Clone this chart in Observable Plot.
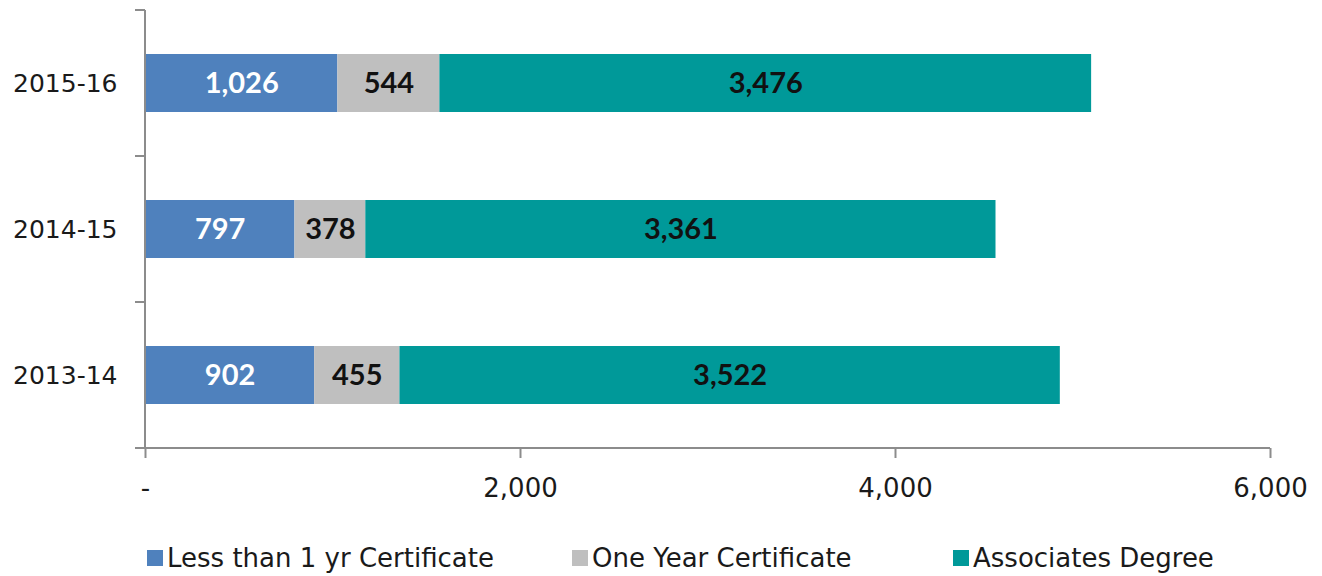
<!DOCTYPE html>
<html>
<head>
<meta charset="utf-8">
<script src="https://cdn.jsdelivr.net/npm/d3@7"></script>
<script src="https://cdn.jsdelivr.net/npm/@observablehq/plot@0.6"></script>
<style>
  html, body { margin: 0; padding: 0; background: #fff; }
  body { width: 1322px; height: 576px; overflow: hidden; font-family: "DejaVu Sans", sans-serif; }
  #legend { display: flex; padding-left: 147px; margin-top: 13px; font-size: 26px; color: #1a1a1a; align-items: center; }
  #legend .item { display: flex; align-items: center; white-space: nowrap; }
  #legend .item:nth-child(1) { width: 425px; }
  #legend .item:nth-child(2) { width: 381px; }
  #legend .sw { width: 16px; height: 16px; margin-right: 4px; display: inline-block; }
</style>
</head>
<body>
<div id="chart"></div>
<div id="legend"></div>
<script>
const years = ["2015-16", "2014-15", "2013-14"];
const series = ["Less than 1 yr Certificate", "One Year Certificate", "Associates Degree"];
const colors = ["#4F81BD", "#BFBFBF", "#009999"];
const lessThan1yr = [1026, 797, 902];
const oneYear = [544, 378, 455];
const associates = [3476, 3361, 3522];
const xTicks = [0, 2000, 4000, 6000];

const seriesValues = [lessThan1yr, oneYear, associates];
const data = [];
series.forEach((s, si) => years.forEach((y, yi) => data.push({year: y, series: s, value: seriesValues[si][yi]})));

const fmt = d3.format(",");
const axisColor = "#8c8c8c";

// Axis lines and category boundary ticks, computed from the plot's scales
function axisLines(index, scales, values, dims) {
  const y = scales.y, x = scales.x;
  const step = y.step ? y.step() : (y.bandwidth() / (1 - 0.6));
  const dom = y.domain();
  const x0 = x(0);
  const g = d3.create("svg:g");
  const first = y(dom[0]) - (step - y.bandwidth()) / 2;
  const last = first + dom.length * step;
  for (let i = 0; i < dom.length; i++) {
    const yy = first + i * step;
    g.append("line").attr("x1", x0 - 10).attr("x2", x0).attr("y1", yy).attr("y2", yy)
      .attr("stroke", axisColor).attr("stroke-width", 2);
  }
  g.append("line").attr("x1", x0).attr("x2", x0).attr("y1", first).attr("y2", last)
    .attr("stroke", axisColor).attr("stroke-width", 2);
  g.append("line").attr("x1", x0 - 10).attr("x2", x(6000)).attr("y1", last).attr("y2", last)
    .attr("stroke", axisColor).attr("stroke-width", 2);
  return g.node();
}

const labelStyle = { fontWeight: "bold", fontFamily: "Lato, sans-serif", fontSize: 29 };

const plot = Plot.plot({
  width: 1322,
  height: 530,
  marginLeft: 145,
  marginRight: 52,
  marginTop: 10,
  marginBottom: 82,
  style: { fontFamily: "DejaVu Sans, sans-serif", fontSize: "25px", color: "#1a1a1a", background: "#fff" },
  x: { domain: [0, 6000], ticks: xTicks },
  y: { domain: years, paddingInner: 0.6, paddingOuter: 0.3 },
  color: { domain: series, range: colors },
  marks: [
    Plot.barX(data, Plot.stackX({ x: "value", y: "year", z: "series", fill: "series", order: series })),
    Plot.text(data, Plot.stackX({ x: "value", y: "year", z: "series", order: series, text: d => fmt(d.value), fill: d => d.series === series[0] ? "#ffffff" : "#111111", ...labelStyle })),
    Plot.axisX({ ticks: xTicks, tickFormat: d => d === 0 ? "-" : fmt(d), tickSize: 10, tickPadding: 20, stroke: axisColor, strokeWidth: 2, fontSize: 26, fill: "#1a1a1a", label: null }),
    Plot.axisY({ tickSize: 0, tickPadding: 28, fontSize: 25, fill: "#1a1a1a", label: null }),
    axisLines
  ]
});
document.getElementById("chart").appendChild(plot);

const legend = document.getElementById("legend");
series.forEach((s, i) => {
  const it = document.createElement("div");
  it.className = "item";
  const sw = document.createElement("span");
  sw.className = "sw";
  sw.style.background = colors[i];
  it.appendChild(sw);
  it.appendChild(document.createTextNode(s));
  legend.appendChild(it);
});
</script>
</body>
</html>
